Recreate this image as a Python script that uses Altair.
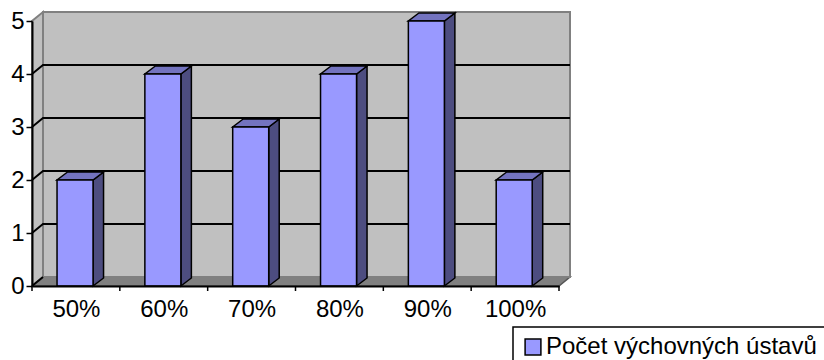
import altair as alt
import pandas as pd

# ---- data ----
categories = ["50%", "60%", "70%", "80%", "90%", "100%"]
values = [2, 4, 3, 4, 5, 2]
y_ticks = [0, 1, 2, 3, 4, 5]
series_name = "Počet výchovných ústavů"

# ---- geometry (plot area & pseudo-3D depth) ----
W, H = 527, 265
X_DOMAIN = [-0.5, len(categories) - 0.5]
Y_DOMAIN = [y_ticks[0], y_ticks[-1]]
PXX = W / (X_DOMAIN[1] - X_DOMAIN[0])
PXY = H / (Y_DOMAIN[1] - Y_DOMAIN[0])
WALL_DX, WALL_DY = 11, 9      # px depth of the back wall
BAR_DX, BAR_DY = 10.5, 8      # px depth of the bars
BAR_L, BAR_R = -0.215, 0.195  # bar front edges relative to category centre
wdx, wdy = WALL_DX / PXX, WALL_DY / PXY
bdx, bdy = BAR_DX / PXX, BAR_DY / PXY
x0, x1 = X_DOMAIN
ytop = Y_DOMAIN[1]

FONT = "Liberation Sans"
FS = 24
xs = alt.Scale(domain=X_DOMAIN, nice=False, zero=False)
ys = alt.Scale(domain=Y_DOMAIN, nice=False, zero=False)

# floor
floor_df = pd.DataFrame({"y": [0, wdy], "x": [x0, x0 + wdx], "x2": [x1, x1 + wdx]})
floor = alt.Chart(floor_df).mark_area(
    orient="horizontal", fill="#808080", stroke="#555555", strokeWidth=1.5
).encode(y=alt.Y("y:Q", scale=ys), x=alt.X("x:Q", scale=xs), x2="x2:Q")

# back wall
wall_df = pd.DataFrame({"x": [x0 + wdx], "x2": [x1 + wdx], "y": [wdy], "y2": [ytop + wdy]})
wall = alt.Chart(wall_df).mark_rect(
    fill="#c0c0c0", stroke="#808080", strokeWidth=2
).encode(x=alt.X("x:Q", scale=xs), x2="x2:Q", y=alt.Y("y:Q", scale=ys), y2="y2:Q")

# left side wall
side_df = pd.DataFrame({"x": [x0, x0 + wdx], "y": [0, wdy], "y2": [ytop, ytop + wdy]})
sidewall = alt.Chart(side_df).mark_area(
    orient="vertical", fill="#c0c0c0", stroke="#808080", strokeWidth=2
).encode(x=alt.X("x:Q", scale=xs), y=alt.Y("y:Q", scale=ys), y2="y2:Q")

# gridlines (diagonal on side wall + horizontal on back wall)
grid_rows = []
for v in y_ticks[:-1]:
    grid_rows.append({"g": v, "o": 0, "x": x0, "y": v})
    grid_rows.append({"g": v, "o": 1, "x": x0 + wdx, "y": v + wdy})
    if v > 0:
        grid_rows.append({"g": v, "o": 2, "x": x1 + wdx, "y": v + wdy})
grid = alt.Chart(pd.DataFrame(grid_rows)).mark_line(
    color="black", strokeWidth=2
).encode(x=alt.X("x:Q", scale=xs), y=alt.Y("y:Q", scale=ys), detail="g:N", order="o:Q")

# category boundary ticks below the x axis
bound_df = pd.DataFrame({"b": [x0 + k for k in range(len(categories) + 1)]})
xticks = alt.Chart(bound_df).mark_rule(color="black", strokeWidth=1.5, y2Offset=5).encode(
    x=alt.X("b:Q", scale=xs), y=alt.datum(0), y2=alt.datum(0))

# bars
bars_df = pd.DataFrame({
    "cat": categories,
    "v": values,
    "xa": [i + BAR_L for i in range(len(categories))],
    "xb": [i + BAR_R for i in range(len(categories))],
    "series": series_name,
})
side_rows, top_rows = [], []
for c, v, xa, xb in zip(categories, values, bars_df["xa"], bars_df["xb"]):
    side_rows += [{"cat": c, "x": xb, "y": 0, "y2": v},
                  {"cat": c, "x": xb + bdx, "y": bdy, "y2": v + bdy}]
    top_rows += [{"cat": c, "y": v, "x": xa, "x2": xb},
                 {"cat": c, "y": v + bdy, "x": xa + bdx, "x2": xb + bdx}]

bar_side = alt.Chart(pd.DataFrame(side_rows)).mark_area(
    orient="vertical", fill="#4d4d80", stroke="black", strokeWidth=1.5
).encode(x=alt.X("x:Q", scale=xs), y=alt.Y("y:Q", scale=ys), y2="y2:Q", detail="cat:N")

bar_top = alt.Chart(pd.DataFrame(top_rows)).mark_area(
    orient="horizontal", fill="#7373bf", stroke="black", strokeWidth=1.5
).encode(y=alt.Y("y:Q", scale=ys), x=alt.X("x:Q", scale=xs), x2="x2:Q", detail="cat:N")

label_arr = "[" + ",".join("'%s'" % c for c in categories) + "]"
bar_front = alt.Chart(bars_df).mark_rect(
    stroke="black", strokeWidth=1.5
).encode(
    x=alt.X("xa:Q", scale=xs, axis=alt.Axis(
        values=list(range(len(categories))),
        labelExpr=f"{label_arr}[round(datum.value)]",
        labelPadding=11, ticks=False, title=None, grid=False, labelFlush=False,
        zindex=1)),
    x2="xb:Q",
    y=alt.Y("v:Q", scale=ys, axis=alt.Axis(
        values=y_ticks, tickSize=6, labelPadding=2, title=None, grid=False, zindex=1)),
    y2=alt.datum(0),
    color=alt.Color("series:N", scale=alt.Scale(range=["#9999ff"]),
                    legend=alt.Legend(title=None, orient="none",
                                      legendX=481, legendY=306)),
)

chart = alt.layer(floor, wall, sidewall, grid, bar_side, bar_top, bar_front, xticks).properties(
    width=W, height=H,
    autosize=alt.AutoSizeParams(type="none"),
    padding={"left": 32, "top": 21, "right": 824 - 32 - W, "bottom": 360 - 21 - H},
).configure_view(stroke=None).configure_axis(
    domainColor="black", domainWidth=2, tickColor="black", tickWidth=1.5,
    labelColor="black", labelFont=FONT, labelFontSize=FS,
).configure_legend(
    strokeColor="black", fillColor="white", padding=8, strokeWidth=1.5,
    symbolType="square", symbolSize=250, symbolStrokeColor="black",
    symbolStrokeWidth=1.5, symbolFillColor="#9999ff",
    labelFont=FONT, labelFontSize=FS, labelColor="black", labelOffset=1,
    labelLimit=500,
)

chart.save("out.html", embed_options={"renderer": "svg", "actions": False})
